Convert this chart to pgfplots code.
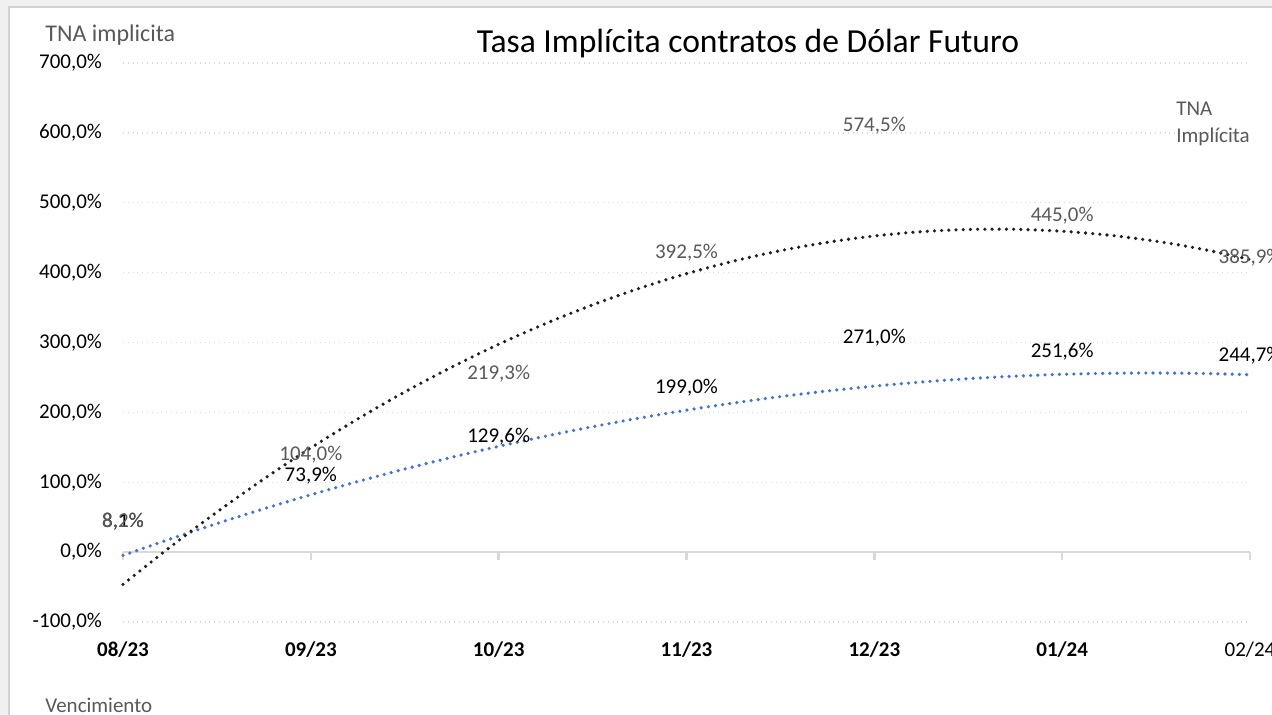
\documentclass[border=0pt]{standalone}
\usepackage{pgfplots}
\pgfplotsset{compat=1.18}
\usepackage{fontspec}
\setmainfont{Carlito}
\definecolor{tblue}{HTML}{4472C4}
\definecolor{lgray}{HTML}{595959}
\definecolor{gridc}{HTML}{D9D9D9}
\begin{document}
\begin{tikzpicture}
\clip (0,0) rectangle (636pt,357.5pt);
\fill[gray!12] (0,0) rectangle (636pt,357.5pt);
\filldraw[fill=white,draw=gray!35,line width=0.6pt] (4.5pt,-10pt) rectangle (650pt,354pt);
\begin{axis}[
  at={(61.5pt,46.5pt)}, anchor=south west,
  scale only axis, width=563.5pt, height=279.5pt,
  xmin=0, xmax=6, ymin=-100, ymax=700,
  axis line style={draw=none},
  clip=false,
  /pgf/number format/assume math mode=true,
  xtick={0,1,2,3,4,5,6},
  xticklabels={\textbf{08/23},\textbf{09/23},\textbf{10/23},\textbf{11/23},\textbf{12/23},\textbf{01/24},02/24},
  xticklabel style={font=\fontsize{10.5}{12}\selectfont, yshift=-6.5pt},
  ytick={-100,0,100,200,300,400,500,600,700},
  yticklabels={{-100,0\%},{0,0\%},{100,0\%},{200,0\%},{300,0\%},{400,0\%},{500,0\%},{600,0\%},{700,0\%}},
  yticklabel style={font=\fontsize{10.5}{12}\selectfont, anchor=east, xshift=-7pt},
  major tick length=0pt,
  tick style={draw=none},
  ymajorgrids, grid style={gridc, dotted, line width=0.7pt},
  tick label style={text=black},
]
% zero line and its ticks
\draw[gridc, line width=1pt] (axis cs:0,0) -- (axis cs:6,0);
\draw[gridc, line width=1.2pt] (axis cs:0,0) -- ([yshift=-4pt]axis cs:0,0);
\draw[gridc, line width=1.2pt] (axis cs:1,0) -- ([yshift=-4pt]axis cs:1,0);
\draw[gridc, line width=1.2pt] (axis cs:2,0) -- ([yshift=-4pt]axis cs:2,0);
\draw[gridc, line width=1.2pt] (axis cs:3,0) -- ([yshift=-4pt]axis cs:3,0);
\draw[gridc, line width=1.2pt] (axis cs:4,0) -- ([yshift=-4pt]axis cs:4,0);
\draw[gridc, line width=1.2pt] (axis cs:5,0) -- ([yshift=-4pt]axis cs:5,0);
\draw[gridc, line width=1.2pt] (axis cs:6,0) -- ([yshift=-4pt]axis cs:6,0);
% blue trend line
\addplot[tblue, line width=1.8pt, line cap=round, dash pattern=on 0pt off 3.6pt, smooth] coordinates {
(0,-4.68)(0.25,18.64)(0.5,40.88)(0.75,62.03)(1,82.09)(1.25,101.05)(1.5,118.91)(1.75,135.70)
(2,151.38)(2.25,165.98)(2.5,179.48)(2.75,191.89)(3,203.21)(3.25,213.43)(3.5,222.58)(3.75,230.62)
(4,237.56)(4.25,243.42)(4.5,248.19)(4.75,251.87)(5,254.45)(5.25,255.93)(5.5,256.34)(5.75,255.64)(6,253.86)};
% black trend line
\addplot[black!88, line width=1.8pt, line cap=round, dash pattern=on 0pt off 3.6pt, smooth] coordinates {
(0,-46.23)(0.25,7.05)(0.5,57.36)(0.75,104.75)(1,149.18)(1.25,190.67)(1.5,229.19)(1.75,264.79)
(2,297.43)(2.25,327.13)(2.5,353.86)(2.75,377.67)(3,398.52)(3.25,416.43)(3.5,431.38)(3.75,443.39)
(4,452.45)(4.25,458.57)(4.5,461.73)(4.75,461.95)(5,459.22)(5.25,453.55)(5.5,444.92)(5.75,433.35)(6,418.83)};
% data labels, series 2 (black labels)
\addplot[draw=none, mark=none, point meta=y,
  nodes near coords={\pgfmathprintnumber[fixed,fixed zerofill,precision=1,use comma]{\pgfplotspointmeta}\%},
  every node near coord/.style={anchor=center, yshift=12.5pt, text=black, font=\fontsize{10.5}{12}\selectfont}]
  coordinates {(0,8.1)(1,73.9)(2,129.6)(3,199.0)(4,271.0)(5,251.6)(6,244.7)};
% data labels, series 1 (gray labels)
\addplot[draw=none, mark=none, point meta=y,
  nodes near coords={\pgfmathprintnumber[fixed,fixed zerofill,precision=1,use comma]{\pgfplotspointmeta}\%},
  every node near coord/.style={anchor=center, yshift=12.5pt, text=lgray, font=\fontsize{10.5}{12}\selectfont}]
  coordinates {(0,8.2)(1,104.0)(2,219.3)(3,392.5)(4,574.5)(5,445.0)(6,385.9)};
\end{axis}
\node[font=\fontsize{16.8}{19}\selectfont, text=black] at (374pt,335.5pt) {Tasa Implícita contratos de Dólar Futuro};
\node[font=\fontsize{12}{14}\selectfont, text=lgray, anchor=west, inner sep=0pt] at (22.5pt,340pt) {TNA implicita};
\node[font=\fontsize{10.5}{12}\selectfont, text=lgray, anchor=west, inner sep=0pt] at (22.5pt,5pt) {Vencimiento};
\node[font=\fontsize{10.5}{13.5}\selectfont, text=lgray, anchor=north west, inner sep=0pt, align=left] at (588pt,306.5pt) {TNA\\Implícita};
\end{tikzpicture}
\end{document}
